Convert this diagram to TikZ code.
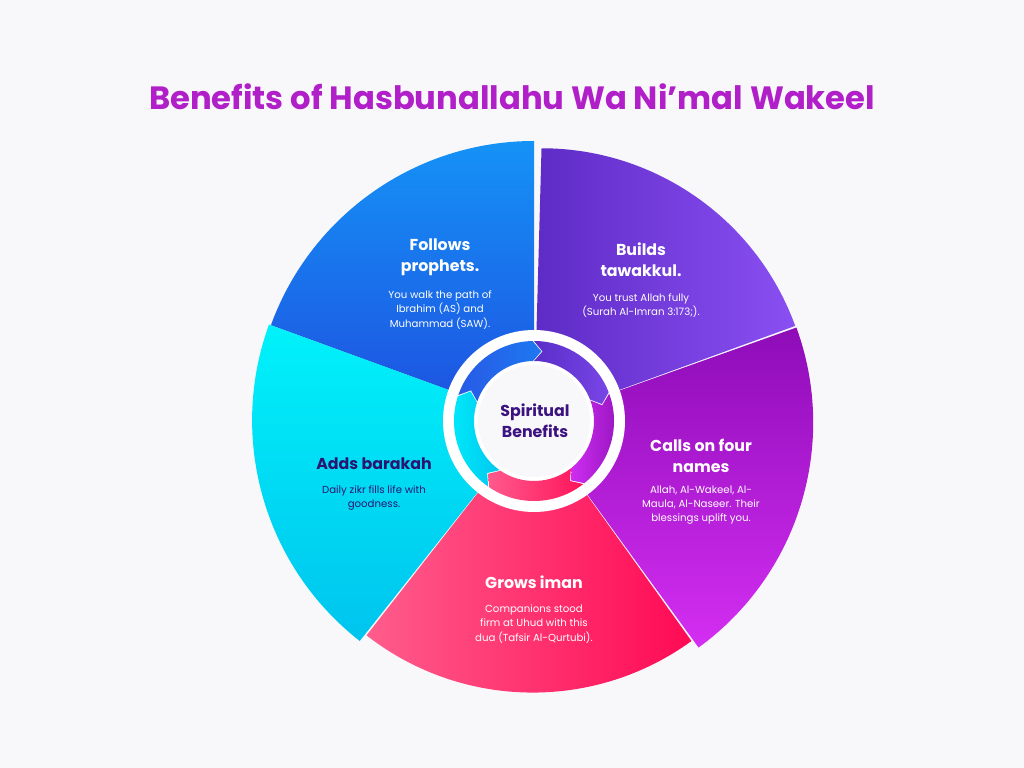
\documentclass[tikz,border=0pt]{standalone}
\usepackage{fontspec}
\setmainfont{Poppins}
\definecolor{bgcol}{HTML}{F8F8FA}
\definecolor{titlecol}{HTML}{B01FC8}
\definecolor{navy}{HTML}{2A1670}
\definecolor{centercol}{HTML}{3B1280}
\tikzset{
  head/.style={font=\bfseries\fontsize{13.5}{18}\selectfont, text=white, align=center},
  body/.style={font=\fontsize{8.7}{12}\selectfont, text=white, align=center, anchor=north},
}
\begin{document}
\begin{tikzpicture}[x=0.03cm,y=-0.03cm]
	\fill[bgcol] (0,0) rectangle (1024,768);
	\useasboundingbox (0,0) rectangle (1024,768);
	% TITLE
	\node (title) at (512,97) [font=\bfseries\fontsize{27.5}{32}\selectfont, text=titlecol] {Benefits of Hasbunallahu Wa Ni’mal Wakeel};
	% SECTORS
	\begin{scope}[shift={(534,421)},yscale=-1]
		\shade[top color={rgb,255:red,21;green,146;blue,246}, bottom color={rgb,255:red,30;green,79;blue,224}] (0,0) -- (90:280) arc[start angle=90,end angle=160,radius=280] -- cycle;
		\shade[left color={rgb,255:red,94;green,43;blue,198}, right color={rgb,255:red,138;green,79;blue,242}] (0,0) -- (20:278) arc[start angle=20,end angle=90,radius=270] -- cycle;
		\shade[top color={rgb,255:red,142;green,12;blue,184}, bottom color={rgb,255:red,212;green,46;blue,242}] (0,0) -- (-54:280) arc[start angle=-54,end angle=20,radius=278] -- cycle;
		\shade[right color={rgb,255:red,255;green,10;blue,85}, left color={rgb,255:red,255;green,92;blue,140}] (0,0) -- (-128:272) arc[start angle=-128,end angle=-54,radius=270] -- cycle;
		\shade[top color={rgb,255:red,0;green,242;blue,250}, bottom color={rgb,255:red,0;green,196;blue,238}] (0,0) -- (160:282) arc[start angle=160,end angle=232,radius=280] -- cycle;
		% CENTER RING
		\fill[white] (0,0) circle (91);
		\fill[bgcol] (0,0) circle (56);
		% ARROWS
		\foreach \a/\b/\ca/\cb in {161/90/{rgb,255:red,30;green,120;blue,240}/{rgb,255:red,40;green,90;blue,230},
			90/20/{rgb,255:red,120;green,70;blue,230}/{rgb,255:red,90;green,45;blue,200},
			20/-52/{rgb,255:red,150;green,20;blue,190}/{rgb,255:red,205;green,45;blue,240},
			-52/-125/{rgb,255:red,255;green,20;blue,90}/{rgb,255:red,255;green,90;blue,140},
			-125/-199/{rgb,255:red,0;green,200;blue,240}/{rgb,255:red,0;green,235;blue,250}}{
			\shade[left color=\cb, right color=\ca] (\a:80) arc[start angle=\a,end angle=\b+1,radius=80] -- (\b-6:70) -- (\b+1:60) arc[start angle=\b+1,end angle=\a,radius=60] -- (\a-7:70) -- cycle;
		}
	\end{scope}
	% TEXTS
	\node (cen) at (535,421) [font=\bfseries\fontsize{13.5}{18}\selectfont, text=centercol, align=center] {Spiritual\\Benefits};
	\node (h1) at (440,257) [head] {Follows\\prophets.};
	\node (b1) at (440,287) [body] {You walk the path of\\Ibrahim (AS) and\\Muhammad (SAW).};
	\node (h2) at (641,260) [head] {Builds\\tawakkul.};
	\node (b2) at (641,290) [body] {You trust Allah fully\\(Surah Al-Imran 3:173;).};
	\node (h3) at (701,456) [head] {Calls on four\\names};
	\node (b3) at (701,482) [body] {Allah, Al-Wakeel, Al-\\Maula, Al-Naseer. Their\\blessings uplift you.};
	\node (h4) at (374,464) [head, text=navy] {Adds barakah};
	\node (b4) at (374,482) [body, text=navy] {Daily zikr fills life with\\goodness.};
	\node (h5) at (534,582) [head] {Grows iman};
	\node (b5) at (534,601) [body] {Companions stood\\firm at Uhud with this\\dua (Tafsir Al-Qurtubi).};
\end{tikzpicture}
\end{document}
